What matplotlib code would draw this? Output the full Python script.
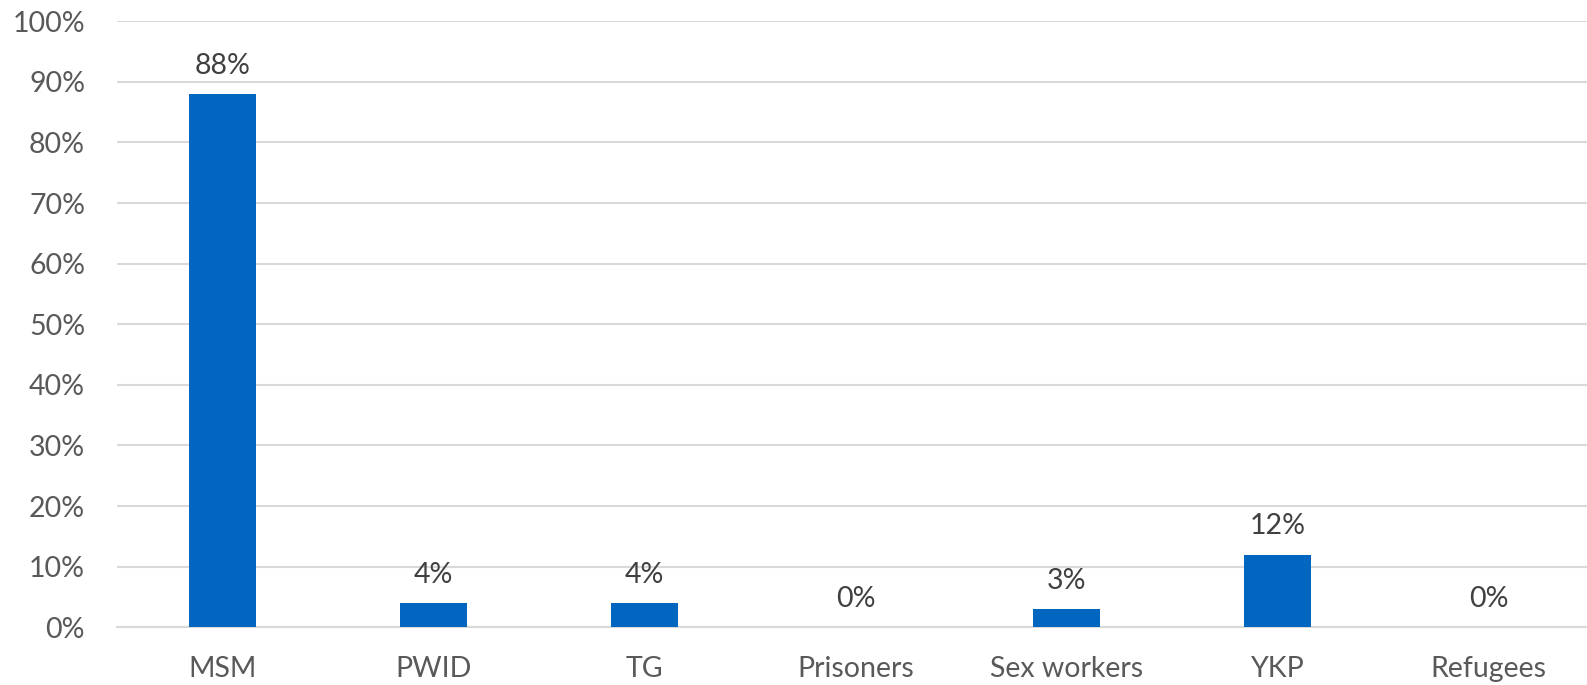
import matplotlib
matplotlib.use("Agg")
import matplotlib.pyplot as plt
from matplotlib.ticker import FuncFormatter, MultipleLocator

categories = ["MSM", "PWID", "TG", "Prisoners", "Sex workers", "YKP", "Refugees"]
values = [88, 4, 4, 0, 3, 12, 0]

plt.rcParams["font.family"] = ["Lato", "DejaVu Sans"]

fig = plt.figure(figsize=(15.87, 6.85), dpi=100)
ax = fig.add_axes([117 / 1587, 1 - 627.3 / 685, 1477 / 1587, 606 / 685])

x = list(range(len(categories)))
ax.bar(x, values, width=0.314, color="#0066C0", zorder=3)

for xi, v in zip(x, values):
    ax.annotate(f"{v}%", (xi, v), xytext=(0, 11), textcoords="offset points",
                ha="center", va="bottom", fontsize=20.5, color="#404040")

ax.set_xlim(-0.5, len(categories) - 0.5)
ax.set_ylim(0, 100)
ax.yaxis.set_major_locator(MultipleLocator(10))
ax.yaxis.set_major_formatter(FuncFormatter(lambda v, _: f"{v:.0f}%"))
ax.set_xticks(x)
ax.set_xticklabels(categories)

ax.grid(axis="y", color="#D9D9D9", linewidth=1.5, zorder=0)
for s in ["top", "right", "left"]:
    ax.spines[s].set_visible(False)
ax.spines["bottom"].set_color("#D9D9D9")
ax.spines["bottom"].set_linewidth(1.5)
ax.tick_params(axis="both", length=0, labelsize=20.5, colors="#595959")
ax.tick_params(axis="y", pad=23)
ax.tick_params(axis="x", pad=21)

fig.savefig("out.png", dpi=100)
